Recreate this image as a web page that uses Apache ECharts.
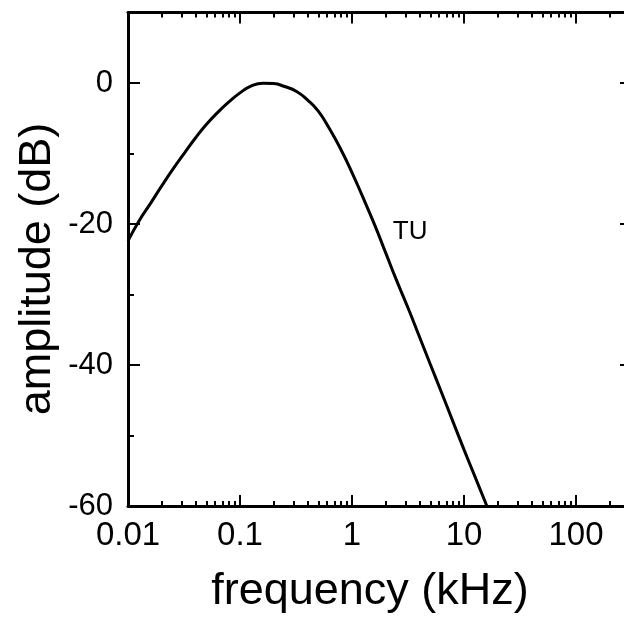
<!DOCTYPE html>
<html>
<head>
<meta charset="utf-8">
<script src="https://cdn.jsdelivr.net/npm/echarts@6/dist/echarts.min.js"></script>
<style>html,body{margin:0;padding:0;background:#fff}#c{width:624px;height:619px}</style>
</head>
<body>
<div id="c"></div>
<script>
// Data
const freqKHz = [0.01, 0.0125, 0.016, 0.02, 0.025, 0.032, 0.04, 0.05, 0.063, 0.08, 0.1, 0.125, 0.16, 0.2, 0.25, 0.32, 0.4, 0.5, 0.63, 0.8, 1, 1.25, 1.6, 2, 2.5, 3.2, 4, 5, 6.3, 8, 10, 12.5, 16];
const ampTU = [-22.4, -19.6, -17.0, -14.6, -12.3, -9.9, -7.8, -5.9, -4.2, -2.65, -1.4, -0.45, -0.02, -0.08, -0.5, -1.2, -2.4, -4.0, -6.5, -9.5, -12.7, -16.2, -20.2, -24.1, -28.0, -32.1, -36.0, -39.9, -43.9, -48.1, -52.0, -55.8, -60.0];
const xMajorLabels = [0.01, 0.1, 1, 10, 100];
const xMinorTicks = [0.02,0.03,0.04,0.05,0.06,0.07,0.08,0.09,
                     0.2,0.3,0.4,0.5,0.6,0.7,0.8,0.9,
                     2,3,4,5,6,7,8,9,
                     20,30,40,50,60,70,80,90,
                     200,300];
const yTickLabels = [0, -20, -40, -60];
const seriesName = 'TU';
const seriesLabelPos = [3.3, -21.1];
const xTitle = 'frequency (kHz)';
const yTitle = 'amplitude (dB)';

const FONT = "'Liberation Sans', Arial, sans-serif";
const X_MIN = 0.01, X_MAX = 316.2;
const Y_MIN = -60, Y_MAX = 10;

const chart = echarts.init(document.getElementById('c'), null, {renderer: 'canvas'});

const axisLineStyle = {color: '#000', width: 3};
function logAxis(pos, opts) {
  return Object.assign({
    type: 'log', logBase: 10, min: X_MIN, max: X_MAX, position: pos, offset: 0,
    gridIndex: 0,
    axisLine: {show: true, onZero: false, lineStyle: axisLineStyle},
    splitLine: {show: false},
    minorTick: {show: false},
    axisLabel: {show: false}
  }, opts);
}

const option = {
  animation: false,
  backgroundColor: '#fff',
  grid: {left: 128, top: 12.5, right: 624 - 632, bottom: 113, containLabel: false, outerBoundsMode: 'none'},
  xAxis: [
    logAxis('bottom', {
      axisTick: {show: true, inside: true, length: 11, lineStyle: {color: '#000', width: 2}},
      axisLabel: {
        show: true, customValues: xMajorLabels, margin: 13,
        color: '#000', fontSize: 33, fontFamily: FONT,
        formatter: v => String(+v.toPrecision(3))
      }
    }),
    logAxis('bottom', {
      axisLine: {show: false, onZero: false},
      axisTick: {show: true, inside: true, length: 5, customValues: xMinorTicks, lineStyle: {color: '#000', width: 2}}
    }),
    logAxis('top', {
      axisTick: {show: true, inside: true, length: 11, lineStyle: {color: '#000', width: 2}}
    }),
    logAxis('top', {
      axisLine: {show: false, onZero: false},
      axisTick: {show: true, inside: true, length: 5, customValues: xMinorTicks, lineStyle: {color: '#000', width: 2}}
    })
  ],
  yAxis: [
    {
      type: 'value', min: Y_MIN, max: Y_MAX, interval: 20, position: 'left',
      axisLine: {show: true, onZero: false, lineStyle: axisLineStyle},
      axisTick: {show: true, inside: true, length: 12, lineStyle: {color: '#000', width: 2}},
      minorTick: {show: true, splitNumber: 2, length: 6, lineStyle: {color: '#000', width: 2}},
      splitLine: {show: false},
      axisLabel: {
        show: true, margin: 15, color: '#000', fontSize: 31, fontFamily: FONT,
        formatter: v => (yTickLabels.indexOf(v) >= 0 ? String(v) : '')
      }
    },
    {
      type: 'value', min: Y_MIN, max: Y_MAX, interval: 20, position: 'right',
      axisLine: {show: true, onZero: false, lineStyle: axisLineStyle},
      axisTick: {show: true, inside: true, length: 12, lineStyle: {color: '#000', width: 2}},
      minorTick: {show: true, splitNumber: 2, length: 6, lineStyle: {color: '#000', width: 2}},
      splitLine: {show: false},
      axisLabel: {show: false}
    }
  ],
  series: [{
    name: seriesName,
    type: 'line',
    xAxisIndex: 0, yAxisIndex: 0,
    data: freqKHz.map((f, i) => [f, ampTU[i]]),
    smooth: 0.5,
    showSymbol: false,
    symbol: 'none',
    clip: true,
    lineStyle: {color: '#000', width: 3},
    markPoint: {
      symbol: 'circle', symbolSize: 0, silent: true,
      label: {show: true, position: 'inside', formatter: seriesName, color: '#000', fontSize: 26, fontFamily: FONT},
      data: [{coord: seriesLabelPos}]
    }
  }],
  graphic: [
    {type: 'text', x: 38, y: 269, rotation: Math.PI / 2,
     style: {text: yTitle, fill: '#000', font: '45px ' + FONT, align: 'center', verticalAlign: 'middle'}},
    {type: 'text', x: 370, y: 592,
     style: {text: xTitle, fill: '#000', font: '45px ' + FONT, align: 'center', verticalAlign: 'middle'}}
  ]
};
chart.setOption(option);
</script>
</body>
</html>
